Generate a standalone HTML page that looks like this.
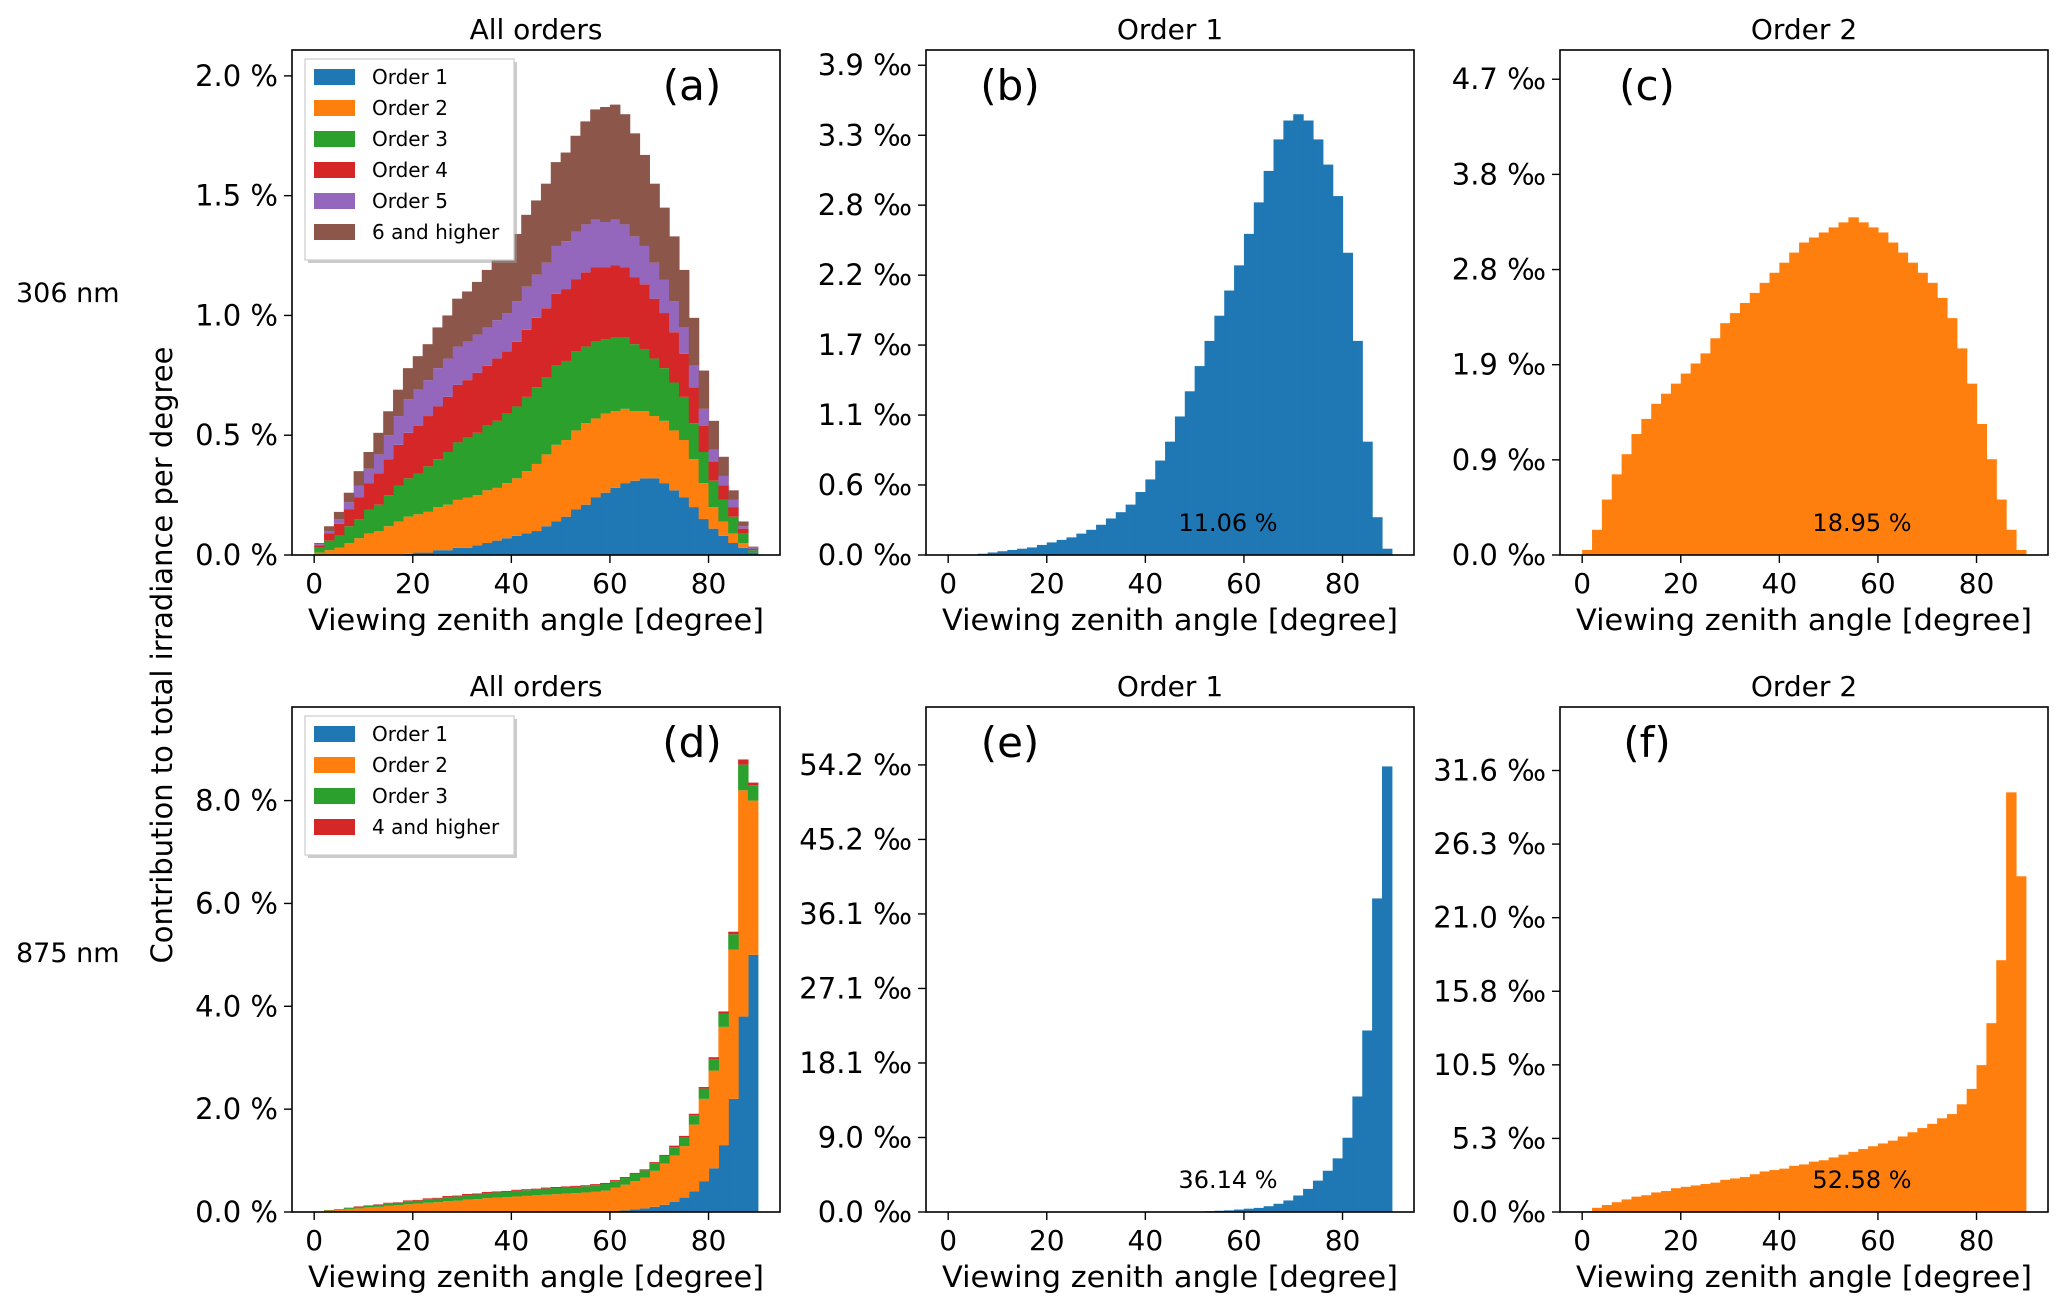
<!DOCTYPE html>
<html><head><meta charset="utf-8"><style>
html,body{margin:0;padding:0;background:#fff;}
svg{display:block;font-family:"DejaVu Sans","Liberation Sans",sans-serif;}
</style></head><body>
<svg id="fig" width="2067" height="1309" viewBox="0 0 2067 1309" xmlns="http://www.w3.org/2000/svg">
<rect width="2067" height="1309" fill="#fff"/>
<text x="16" y="302" font-size="27">306 nm</text>
<text x="16" y="962" font-size="27">875 nm</text>
<text transform="translate(172,655) rotate(-90)" text-anchor="middle" font-size="29">Contribution to total irradiance per degree</text>
</svg>
<script>
const binCenters=[1,3,5,7,9,11,13,15,17,19,21,23,25,27,29,31,33,35,37,39,41,43,45,47,49,51,53,55,57,59,61,63,65,67,69,71,73,75,77,79,81,83,85,87,89];
// panel (a) 306 nm stacked, in %
const a306Order1=[0,0,0,0,0,0,0,0,0,0.005,0.01,0.01,0.02,0.02,0.03,0.03,0.04,0.05,0.06,0.07,0.08,0.09,0.1,0.12,0.14,0.16,0.19,0.21,0.24,0.26,0.28,0.3,0.31,0.32,0.32,0.3,0.27,0.24,0.2,0.15,0.11,0.08,0.05,0.03,0.01];
const a306Order2=[0.01,0.02,0.03,0.05,0.07,0.09,0.1,0.12,0.14,0.155,0.16,0.17,0.18,0.19,0.2,0.21,0.21,0.22,0.22,0.23,0.24,0.26,0.28,0.3,0.32,0.32,0.33,0.34,0.33,0.33,0.32,0.31,0.29,0.28,0.26,0.26,0.25,0.24,0.2,0.15,0.09,0.06,0.04,0.02,0.0];
const a306Order3=[0.02,0.04,0.05,0.07,0.08,0.1,0.11,0.13,0.15,0.16,0.17,0.19,0.2,0.22,0.24,0.25,0.26,0.27,0.28,0.29,0.3,0.31,0.32,0.32,0.33,0.33,0.33,0.32,0.32,0.31,0.31,0.3,0.28,0.26,0.24,0.22,0.2,0.18,0.15,0.13,0.11,0.09,0.07,0.04,0.01];
const a306Order4=[0.01,0.03,0.05,0.07,0.09,0.11,0.13,0.15,0.17,0.19,0.2,0.21,0.22,0.23,0.24,0.24,0.25,0.25,0.26,0.26,0.27,0.28,0.29,0.29,0.3,0.3,0.3,0.31,0.31,0.3,0.3,0.29,0.28,0.27,0.25,0.23,0.21,0.18,0.15,0.11,0.08,0.06,0.04,0.02,0.005];
const a306Order5=[0.005,0.01,0.02,0.03,0.05,0.06,0.08,0.1,0.12,0.14,0.15,0.15,0.16,0.16,0.16,0.16,0.16,0.16,0.16,0.16,0.17,0.18,0.18,0.19,0.2,0.2,0.2,0.2,0.2,0.19,0.19,0.18,0.17,0.16,0.15,0.14,0.13,0.11,0.09,0.07,0.05,0.04,0.03,0.01,0.005];
const a306Order6=[0.005,0.02,0.03,0.04,0.06,0.07,0.09,0.1,0.11,0.13,0.14,0.15,0.17,0.18,0.2,0.21,0.22,0.24,0.25,0.27,0.28,0.3,0.31,0.33,0.35,0.37,0.4,0.43,0.46,0.48,0.48,0.46,0.43,0.38,0.33,0.3,0.27,0.24,0.2,0.16,0.12,0.08,0.04,0.02,0.005];
// panel (b) order 1, 306 nm, per mille
const b306=[0,0,0,0.01,0.02,0.03,0.04,0.05,0.06,0.08,0.1,0.12,0.14,0.17,0.2,0.24,0.29,0.34,0.4,0.5,0.6,0.75,0.9,1.1,1.3,1.5,1.7,1.9,2.1,2.3,2.55,2.8,3.05,3.3,3.45,3.5,3.45,3.3,3.1,2.85,2.4,1.7,0.9,0.3,0.05];
// panel (c) order 2, 306 nm, per mille
const c306=[0.05,0.25,0.55,0.8,1.0,1.2,1.35,1.5,1.6,1.7,1.8,1.9,2.0,2.15,2.3,2.4,2.5,2.6,2.7,2.8,2.9,3.0,3.1,3.15,3.2,3.25,3.3,3.35,3.3,3.25,3.2,3.1,3.0,2.9,2.8,2.7,2.55,2.35,2.05,1.7,1.3,0.95,0.55,0.25,0.05];
// panel (d) 875 nm stacked, in %
const d875Order1=[0,0,0,0,0,0,0,0,0,0,0,0,0,0,0,0,0,0,0,0,0.002,0.003,0.004,0.005,0.006,0.007,0.008,0.01,0.012,0.015,0.02,0.03,0.05,0.07,0.1,0.14,0.2,0.28,0.4,0.6,0.85,1.3,2.2,3.8,5.0];
const d875Order2=[0.01,0.03,0.04,0.06,0.07,0.09,0.1,0.12,0.13,0.15,0.16,0.18,0.19,0.21,0.22,0.24,0.25,0.27,0.28,0.29,0.3,0.31,0.32,0.33,0.34,0.35,0.36,0.37,0.38,0.4,0.45,0.5,0.55,0.6,0.7,0.8,0.9,1.0,1.3,1.6,1.9,2.3,2.9,4.4,3.0];
const d875Order3=[0.0,0.01,0.01,0.02,0.03,0.03,0.04,0.05,0.05,0.06,0.06,0.07,0.07,0.08,0.08,0.09,0.09,0.1,0.1,0.1,0.11,0.11,0.11,0.12,0.12,0.12,0.12,0.12,0.13,0.13,0.13,0.13,0.14,0.14,0.15,0.15,0.16,0.17,0.18,0.2,0.22,0.26,0.3,0.5,0.3];
const d875Order4=[0,0,0.005,0.005,0.01,0.01,0.01,0.01,0.01,0.015,0.015,0.015,0.015,0.02,0.02,0.02,0.02,0.02,0.02,0.02,0.02,0.02,0.02,0.02,0.02,0.02,0.02,0.02,0.02,0.02,0.02,0.02,0.02,0.02,0.02,0.02,0.03,0.03,0.03,0.03,0.04,0.04,0.05,0.1,0.05];
// panel (e) order 1, 875 nm, per mille
const e875=[0,0,0,0,0,0,0,0,0,0,0,0,0,0,0,0,0,0,0,0,0,0,0,0,0,0.05,0.1,0.15,0.2,0.3,0.4,0.5,0.7,1.0,1.4,2.0,2.8,3.8,5.0,6.5,9,14,22,38,54];
// panel (f) order 2, 875 nm, per mille
const f875=[0.05,0.3,0.5,0.7,0.9,1.1,1.2,1.4,1.5,1.7,1.8,1.9,2.0,2.1,2.3,2.4,2.5,2.7,2.9,3.0,3.1,3.3,3.4,3.6,3.7,3.9,4.1,4.3,4.5,4.7,4.9,5.1,5.4,5.7,6.0,6.3,6.7,7.0,7.7,8.8,10.5,13.5,18,30,24];
// ticks
const xTicks=[0,20,40,60,80];
const aTicks=[0,0.5,1.0,1.5,2.0]; const aLabels=["0.0 %","0.5 %","1.0 %","1.5 %","2.0 %"];
const bTicks=[0,0.556,1.111,1.667,2.222,2.778,3.333,3.889]; const bLabels=["0.0 ‰","0.6 ‰","1.1 ‰","1.7 ‰","2.2 ‰","2.8 ‰","3.3 ‰","3.9 ‰"];
const cTicks=[0,0.944,1.888,2.832,3.776,4.72]; const cLabels=["0.0 ‰","0.9 ‰","1.9 ‰","2.8 ‰","3.8 ‰","4.7 ‰"];
const dTicks=[0,2,4,6,8]; const dLabels=["0.0 %","2.0 %","4.0 %","6.0 %","8.0 %"];
const eTicks=[0,9.03,18.06,27.09,36.12,45.15,54.18]; const eLabels=["0.0 ‰","9.0 ‰","18.1 ‰","27.1 ‰","36.1 ‰","45.2 ‰","54.2 ‰"];
const fTicks=[0,5.26,10.52,15.78,21.04,26.3,31.56]; const fLabels=["0.0 ‰","5.3 ‰","10.5 ‰","15.8 ‰","21.0 ‰","26.3 ‰","31.6 ‰"];
const C=["#1f77b4","#ff7f0e","#2ca02c","#d62728","#9467bd","#8c564b"];
const NS="http://www.w3.org/2000/svg";
const svg=document.getElementById('fig');
function mk(tag,attrs,parent){const e=document.createElementNS(NS,tag);for(const k in attrs)e.setAttribute(k,attrs[k]);(parent||svg).appendChild(e);return e;}

function panel(p){
  const g=mk('g',{});
  
  
  const L=p.x0,R=p.x0+488,T=p.y0,B=p.y0+505;
  const xs=v=>L+(v+4.5)/99*(R-L);
  const ys=v=>B-v/p.ymax*(B-T);
  const cum=binCenters.map(()=>0);
  p.series.forEach((s,si)=>{
    const sg=mk('g',{},g);
    
    
    s.vals.forEach((v,i)=>{
      const c=binCenters[i];
      const y1=ys(cum[i]),y2=ys(cum[i]+v);
      cum[i]+=v;
      if(y1-y2<=0)return;
      const r=mk('rect',{x:xs(c-1),y:y2,width:xs(c+1)-xs(c-1)+0.6,height:y1-y2,fill:s.color},sg);
      
      
    });
  });
  const fr=mk('rect',{x:L,y:T,width:R-L,height:B-T,fill:'none',stroke:'#000','stroke-width':1.6},g);
  
  
  xTicks.forEach(t=>{
    mk('line',{x1:xs(t),x2:xs(t),y1:B,y2:B+8,stroke:'#000','stroke-width':1.4},g);
    const tx=mk('text',{x:xs(t),y:B+38,'text-anchor':'middle','font-size':28},g);
    tx.textContent=t;
    
    
  });
  p.yt.forEach((t,i)=>{
    mk('line',{x1:L-8,x2:L,y1:ys(t),y2:ys(t),stroke:'#000','stroke-width':1.4},g);
    const tx=mk('text',{x:L-14,y:ys(t)+10,'text-anchor':'end','font-size':29},g);
    tx.textContent=p.yl[i];
    
    
  });
  const xl=mk('text',{x:(L+R)/2,y:B+75,'text-anchor':'middle','font-size':29,textLength:456,lengthAdjust:'spacingAndGlyphs'},g);
  xl.textContent='Viewing zenith angle [degree]';
  
  
  const ti=mk('text',{x:(L+R)/2,y:T-11,'text-anchor':'middle','font-size':28},g);
  ti.textContent=p.title;
  
  
  const lt=mk('text',{x:p.letterX,y:T+50,'text-anchor':'middle','font-size':42},g);
  lt.textContent=p.letter;
  
  
  if(p.pct){
    const pt=mk('text',{x:L+302,y:B-24,'text-anchor':'middle','font-size':24},g);
    pt.textContent=p.pct;
    
    
  }
  if(p.legend){
    const lg=mk('g',{},g);
    
    
    const n=p.series.length;
    mk('rect',{x:L+16,y:T+12,width:209,height:n*31+15,fill:'#999',opacity:0.5},lg);
    mk('rect',{x:L+13,y:T+9,width:209,height:n*31+15,fill:'#fff',stroke:'#ccc','stroke-width':1.2},lg);
    p.series.forEach((s,i)=>{
      const e=mk('g',{},lg);
      
      
      mk('rect',{x:L+22,y:T+19+i*31,width:41,height:16,fill:s.color},e);
      const t=mk('text',{x:L+80,y:T+34+i*31,'font-size':20},e);
      t.textContent=s.label;
    });
  }
}
const cx=[292,926,1560], ry=[50,707];
panel({id:'a',x0:cx[0],y0:ry[0],ymax:2.108,yt:aTicks,yl:aLabels,title:'All orders',letter:'(a)',letterX:692,legend:true,
 series:[{name:'order1',label:'Order 1',vals:a306Order1,color:C[0]},{name:'order2',label:'Order 2',vals:a306Order2,color:C[1]},{name:'order3',label:'Order 3',vals:a306Order3,color:C[2]},{name:'order4',label:'Order 4',vals:a306Order4,color:C[3]},{name:'order5',label:'Order 5',vals:a306Order5,color:C[4]},{name:'order6plus',label:'6 and higher',vals:a306Order6,color:C[5]}]});
panel({id:'b',x0:cx[1],y0:ry[0],ymax:4.01,yt:bTicks,yl:bLabels,title:'Order 1',letter:'(b)',letterX:1010,pct:'11.06 %',
 series:[{name:'order1',vals:b306,color:C[0]}]});
panel({id:'c',x0:cx[2],y0:ry[0],ymax:5.01,yt:cTicks,yl:cLabels,title:'Order 2',letter:'(c)',letterX:1647,pct:'18.95 %',
 series:[{name:'order2',vals:c306,color:C[1]}]});
panel({id:'d',x0:cx[0],y0:ry[1],ymax:9.82,yt:dTicks,yl:dLabels,title:'All orders',letter:'(d)',letterX:692,legend:true,
 series:[{name:'order1',label:'Order 1',vals:d875Order1,color:C[0]},{name:'order2',label:'Order 2',vals:d875Order2,color:C[1]},{name:'order3',label:'Order 3',vals:d875Order3,color:C[2]},{name:'order4plus',label:'4 and higher',vals:d875Order4,color:C[3]}]});
panel({id:'e',x0:cx[1],y0:ry[1],ymax:61.2,yt:eTicks,yl:eLabels,title:'Order 1',letter:'(e)',letterX:1010,pct:'36.14 %',
 series:[{name:'order1',vals:e875,color:C[0]}]});
panel({id:'f',x0:cx[2],y0:ry[1],ymax:36.1,yt:fTicks,yl:fLabels,title:'Order 2',letter:'(f)',letterX:1647,pct:'52.58 %',
 series:[{name:'order2',vals:f875,color:C[1]}]});
</script>
</body></html>
